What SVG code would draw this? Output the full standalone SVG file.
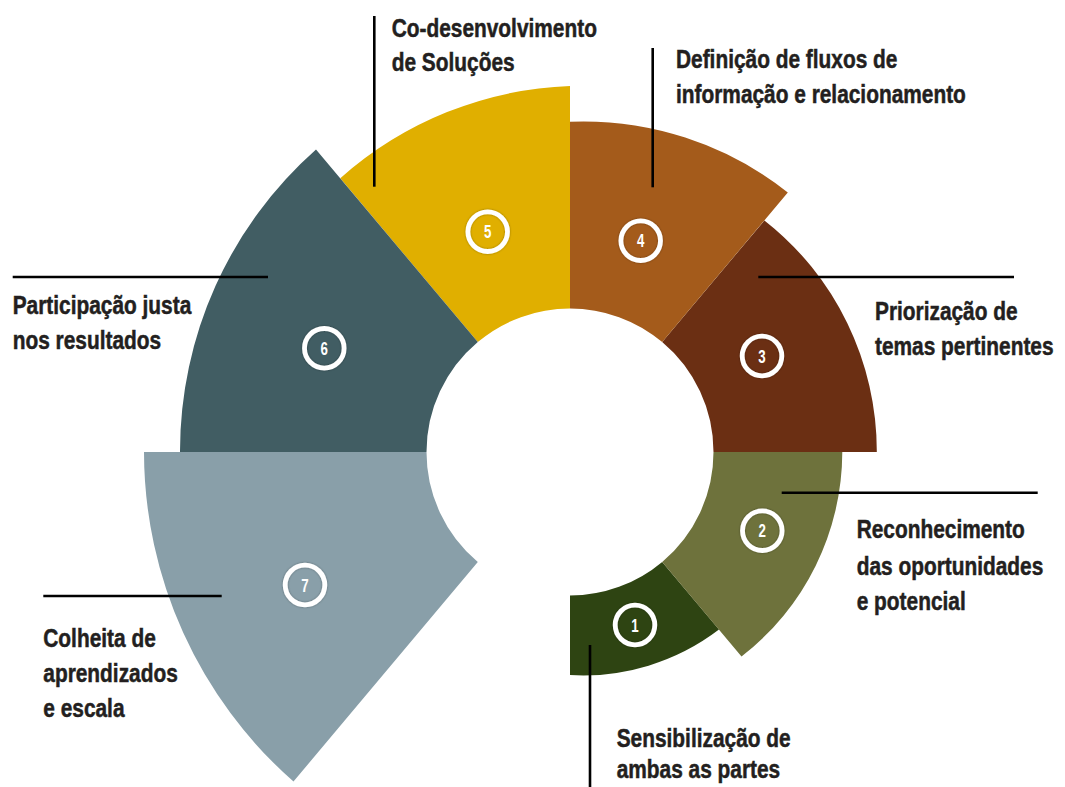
<svg xmlns="http://www.w3.org/2000/svg" width="1065" height="787" viewBox="0 0 1065 787">
<defs>
<filter id="sh" x="-30%" y="-30%" width="160%" height="160%">
<feDropShadow dx="0" dy="0" stdDeviation="1" flood-color="#000" flood-opacity="0.35"/>
</filter>
</defs>
<style>
.lbl{font-family:"Liberation Sans",Arial,sans-serif;font-weight:bold;font-size:25px;fill:#231f20;stroke:#231f20;stroke-width:0.5}
.num{font-family:"Liberation Sans",Arial,sans-serif;font-weight:bold;font-size:18.5px;fill:#fff;text-anchor:middle}
.ring{fill:none;stroke:#fff;stroke-width:4.8;filter:url(#sh)}
.lead{stroke:#000;stroke-width:2.6;fill:none}
</style>
<rect width="1065" height="787" fill="#fff"/>
<g id="sectors">
<g id="s1"><path fill="#2e4412" d="M570,595.5 L570,675 A224,224 0 0 0 719,629.6 L662.2,561.9 A143.5,143.5 0 0 1 570,595.5 Z"/></g>
<g id="s2"><path fill="#6e723c" d="M662.2,561.9 L741.5,656.4 A259,259 0 0 0 842.3,452 L713.5,452 A143.5,143.5 0 0 1 662.2,561.9 Z"/></g>
<g id="s3"><path fill="#6b2f13" d="M713.5,452 L876.8,452 A293.5,293.5 0 0 0 764.4,220.4 L662.2,342.1 A143.5,143.5 0 0 1 713.5,452 Z"/></g>
<g id="s4"><path fill="#a45b1b" d="M662.2,342.1 L787.8,192.4 A330,330 0 0 0 570,121.7 L570,308.5 A143.5,143.5 0 0 1 662.2,342.1 Z"/></g>
<g id="s5"><path fill="#e0af00" d="M570,308.5 L570,86 A365.6,365.6 0 0 0 340.3,178.3 L477.8,342.1 A143.5,143.5 0 0 1 570,308.5 Z"/></g>
<g id="s6"><path fill="#415d63" d="M477.8,342.1 L316,149.4 A403.3,403.3 0 0 0 180,452 L426.5,452 A143.5,143.5 0 0 1 477.8,342.1 Z"/></g>
<g id="s7"><path fill="#899fa9" d="M426.5,452 L144,452 A439.3,439.3 0 0 0 293.5,781.5 L477.8,561.9 A143.5,143.5 0 0 1 426.5,452 Z"/></g>
</g>
<g id="connectors">
<line class="lead" x1="590" y1="645" x2="590" y2="787"/>
<line class="lead" x1="781.7" y1="492.7" x2="1037.7" y2="492.7"/>
<line class="lead" x1="758.3" y1="277" x2="1014" y2="277"/>
<line class="lead" x1="652.7" y1="48" x2="652.7" y2="187.3"/>
<line class="lead" x1="374.3" y1="16" x2="374.3" y2="186.7"/>
<line class="lead" x1="12.7" y1="277" x2="268" y2="277"/>
<line class="lead" x1="43.3" y1="596" x2="221.7" y2="596"/>
</g>
<g id="n1">
<circle class="ring" cx="635" cy="625" r="19.8"/>
<text class="num" transform="translate(635,631.5) scale(0.72,1)">1</text>
<text class="lbl" transform="translate(616.7,746.7) scale(0.835,1)">Sensibilização de</text>
<text class="lbl" transform="translate(616.7,778.3) scale(0.835,1)">ambas as partes</text>
</g>
<g id="n2">
<circle class="ring" cx="762.3" cy="530.7" r="19.8"/>
<text class="num" transform="translate(762.3,537.2) scale(0.72,1)">2</text>
<text class="lbl" transform="translate(856.7,538.3) scale(0.835,1)">Reconhecimento</text>
<text class="lbl" transform="translate(856.7,574.5) scale(0.835,1)">das oportunidades</text>
<text class="lbl" transform="translate(856.7,610) scale(0.835,1)">e potencial</text>
</g>
<g id="n3">
<circle class="ring" cx="762" cy="356" r="19.8"/>
<text class="num" transform="translate(762,362.5) scale(0.72,1)">3</text>
<text class="lbl" transform="translate(875,320) scale(0.835,1)">Priorização de</text>
<text class="lbl" transform="translate(875,355) scale(0.835,1)">temas pertinentes</text>
</g>
<g id="n4">
<circle class="ring" cx="640.7" cy="240.7" r="19.8"/>
<text class="num" transform="translate(640.7,247.2) scale(0.72,1)">4</text>
<text class="lbl" transform="translate(676,68.3) scale(0.835,1)">Definição de fluxos de</text>
<text class="lbl" transform="translate(676,102.7) scale(0.835,1)">informação e relacionamento</text>
</g>
<g id="n5">
<circle class="ring" cx="487.7" cy="231.7" r="19.8"/>
<text class="num" transform="translate(487.7,238.2) scale(0.72,1)">5</text>
<text class="lbl" transform="translate(391.7,36.7) scale(0.835,1)">Co-desenvolvimento</text>
<text class="lbl" transform="translate(391.7,71) scale(0.835,1)">de Soluções</text>
</g>
<g id="n6">
<circle class="ring" cx="324.3" cy="348.3" r="19.8"/>
<text class="num" transform="translate(324.3,354.8) scale(0.72,1)">6</text>
<text class="lbl" transform="translate(12.7,314) scale(0.835,1)">Participação justa</text>
<text class="lbl" transform="translate(12.7,349.3) scale(0.835,1)">nos resultados</text>
</g>
<g id="n7">
<circle class="ring" cx="305" cy="585" r="19.8"/>
<text class="num" transform="translate(305,591.5) scale(0.72,1)">7</text>
<text class="lbl" transform="translate(43.3,646.7) scale(0.835,1)">Colheita de</text>
<text class="lbl" transform="translate(43.3,681.7) scale(0.835,1)">aprendizados</text>
<text class="lbl" transform="translate(43.3,717.3) scale(0.835,1)">e escala</text>
</g>
</svg>
